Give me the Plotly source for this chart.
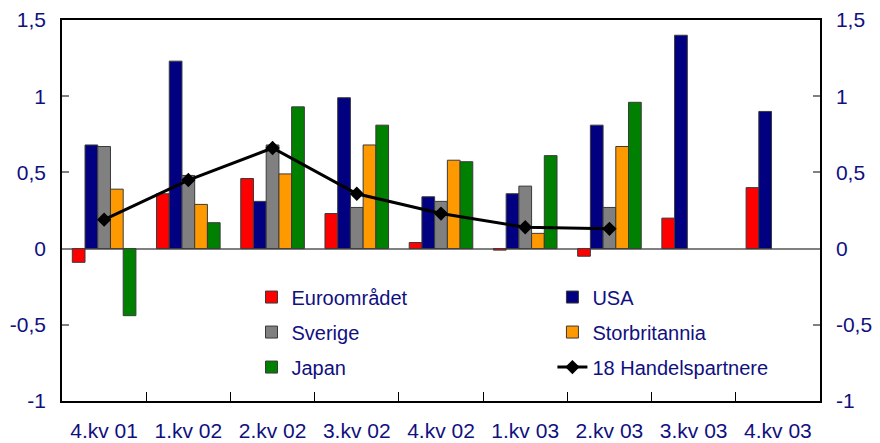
import plotly.graph_objects as go

categories = ["4.kv 01", "1.kv 02", "2.kv 02", "3.kv 02", "4.kv 02",
              "1.kv 03", "2.kv 03", "3.kv 03", "4.kv 03"]
euro = [-0.09, 0.36, 0.46, 0.23, 0.04, -0.01, -0.05, 0.20, 0.40]
usa = [0.68, 1.23, 0.31, 0.99, 0.34, 0.36, 0.81, 1.40, 0.90]
sverige = [0.67, 0.48, 0.68, 0.27, 0.31, 0.41, 0.27, None, None]
storbritannia = [0.39, 0.29, 0.49, 0.68, 0.58, 0.10, 0.67, None, None]
japan = [-0.44, 0.17, 0.93, 0.81, 0.57, 0.61, 0.96, None, None]
handel = [0.19, 0.45, 0.66, 0.36, 0.23, 0.14, 0.13, None, None]

ytickvals = [-1, -0.5, 0, 0.5, 1, 1.5]
yticktext = ["-1", "-0,5", "0", "0,5", "1", "1,5"]

FONT = "Liberation Sans, Arial, sans-serif"
TXT = "#10107f"
OUTLINE = "#3a3a3a"

fig = go.Figure()

bar_specs = [
    ("Euroområdet", euro, "#ff0000", "legend"),
    ("USA", usa, "#000080", "legend2"),
    ("Sverige", sverige, "#808080", "legend"),
    ("Storbritannia", storbritannia, "#ff9900", "legend2"),
    ("Japan", japan, "#008000", "legend"),
]
for name, vals, col, lg in bar_specs:
    fig.add_trace(go.Bar(
        x=categories, y=vals, name=name, legend=lg, legendgroup=name,
        marker=dict(color=col, line=dict(color=OUTLINE, width=1)),
    ))

fig.add_trace(go.Scatter(
    x=categories, y=handel, name="18 Handelspartnere", legend="legend2",
    legendgroup="18", mode="lines+markers",
    line=dict(color="black", width=3),
    marker=dict(symbol="diamond", size=11, color="black"),
))

# invisible trace to activate right axis
fig.add_trace(go.Scatter(x=categories, y=[None] * len(categories), yaxis="y2",
                         showlegend=False, hoverinfo="skip"))

legend_common = dict(
    font=dict(family=FONT, size=20, color=TXT),
    bgcolor="rgba(0,0,0,0)", borderwidth=0,
    traceorder="grouped", tracegroupgap=6,
    xanchor="left", yanchor="top",
)

# page body has an 8px margin, so the figure is sized/offset to compensate
fig.update_layout(
    width=872, height=435,
    margin=dict(l=54, r=60, t=12, b=42),
    paper_bgcolor="white", plot_bgcolor="white",
    barmode="group", bargap=0.245, bargroupgap=0,
    font=dict(family=FONT, size=21, color=TXT),
    legend=dict(x=0.250, y=0.324, **legend_common),
    legend2=dict(x=0.647, y=0.324, **legend_common),
    xaxis=dict(
        type="category", range=[-0.5, 8.5], automargin=False,
        showline=True, linecolor="black", linewidth=1.5,
        mirror=True, ticks="inside", tickson="boundaries", ticklen=9,
        tickcolor="black", tickwidth=1, showgrid=False,
        tickfont=dict(family=FONT, size=21, color=TXT),
        ticklabelstandoff=10,
    ),
    yaxis=dict(
        range=[-1, 1.5], tickvals=ytickvals, ticktext=yticktext, automargin=False,
        showline=True, linecolor="black", linewidth=1.5,
        ticks="inside", ticklen=7, tickcolor="#808080", tickwidth=1.5,
        showgrid=False, zeroline=True, zerolinecolor="#808080", zerolinewidth=1.5,
        tickfont=dict(family=FONT, size=21, color=TXT),
        ticklabelstandoff=10,
    ),
    yaxis2=dict(
        range=[-1, 1.5], tickvals=ytickvals, ticktext=yticktext, automargin=False,
        overlaying="y", side="right", showline=True, linecolor="black", linewidth=1.5,
        ticks="inside", ticklen=7, tickcolor="#808080", tickwidth=1.5,
        showgrid=False, zeroline=False,
        tickfont=dict(family=FONT, size=21, color=TXT),
        ticklabelstandoff=10,
    ),
)

fig.write_html("out.html")
